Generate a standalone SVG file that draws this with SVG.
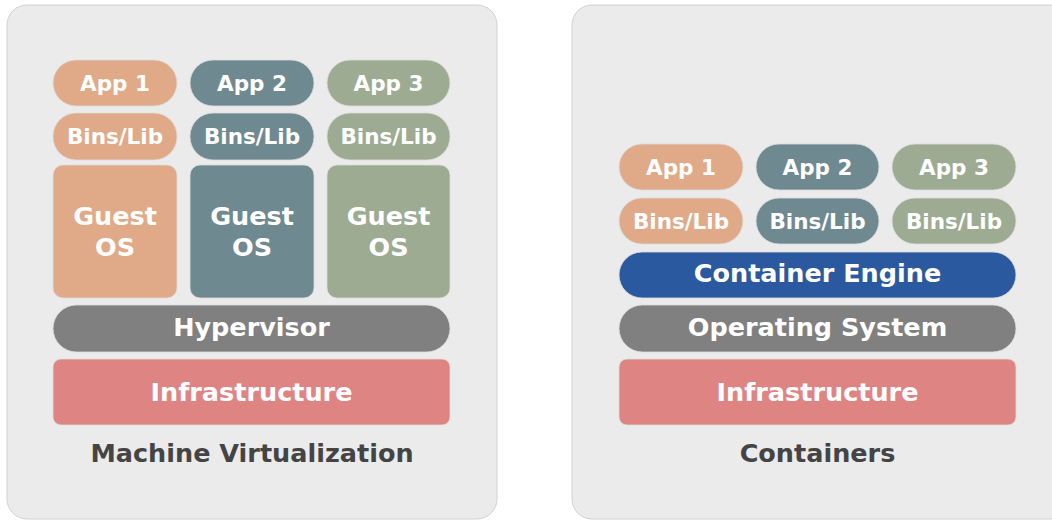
<svg xmlns="http://www.w3.org/2000/svg" width="1052" height="520" viewBox="0 0 1052 520">
<style>
.panel{fill:#ebebeb;stroke:#d2d2d2;stroke-width:1}
.t{font-family:"DejaVu Sans",sans-serif;font-weight:bold;fill:#ffffff;text-anchor:middle;dominant-baseline:central}
.s{font-size:21.5px}
.m{font-size:25.5px}
.l{font-size:25.5px}
.cap{font-family:"DejaVu Sans",sans-serif;font-weight:bold;fill:#444444;text-anchor:middle;font-size:25.5px;dominant-baseline:central}
.o{fill:#e0aa88}.b{fill:#6f8990}.g{fill:#9dab93}.h{fill:#808080}.e{fill:#2a59a0}.r{fill:#de8584}
.o,.b,.g,.h,.e,.r{stroke:#dcdcdc;stroke-width:0.8}
</style>
<rect class="panel" x="7" y="5" width="490" height="514" rx="20"/>
<rect class="panel" x="572" y="5" width="500" height="514" rx="20"/>
<g id="vm-app1"><rect class="o" x="53" y="60" width="124" height="46" rx="23"/><text class="t s" x="115" y="83">App 1</text></g>
<g id="vm-app2"><rect class="b" x="190" y="60" width="124" height="46" rx="23"/><text class="t s" x="252" y="83">App 2</text></g>
<g id="vm-app3"><rect class="g" x="327" y="60" width="123" height="46" rx="23"/><text class="t s" x="388.5" y="83">App 3</text></g>
<g id="vm-bins1"><rect class="o" x="53" y="113" width="124" height="47" rx="23"/><text class="t s" x="115" y="136.5">Bins/Lib</text></g>
<g id="vm-bins2"><rect class="b" x="190" y="113" width="124" height="47" rx="23"/><text class="t s" x="252" y="136.5">Bins/Lib</text></g>
<g id="vm-bins3"><rect class="g" x="327" y="113" width="123" height="47" rx="23"/><text class="t s" x="388.5" y="136.5">Bins/Lib</text></g>
<g id="vm-os1"><rect class="o" x="53" y="165" width="124" height="133" rx="10"/><text class="t l" x="115" y="216">Guest</text><text class="t l" x="115" y="247">OS</text></g>
<g id="vm-os2"><rect class="b" x="190" y="165" width="124" height="133" rx="10"/><text class="t l" x="252" y="216">Guest</text><text class="t l" x="252" y="247">OS</text></g>
<g id="vm-os3"><rect class="g" x="327" y="165" width="123" height="133" rx="10"/><text class="t l" x="388.5" y="216">Guest</text><text class="t l" x="388.5" y="247">OS</text></g>
<g id="vm-hyp"><rect class="h" x="53" y="305" width="397" height="47" rx="23.5"/><text class="t m" x="251.5" y="327">Hypervisor</text></g>
<g id="vm-infra"><rect class="r" x="53" y="359" width="397" height="66" rx="8"/><text class="t m" x="251.5" y="392">Infrastructure</text></g>
<text class="cap" x="252" y="453">Machine Virtualization</text>
<g id="c-app1"><rect class="o" x="619" y="144" width="124" height="46" rx="23"/><text class="t s" x="681" y="167">App 1</text></g>
<g id="c-app2"><rect class="b" x="756" y="144" width="123" height="46" rx="23"/><text class="t s" x="817.5" y="167">App 2</text></g>
<g id="c-app3"><rect class="g" x="892" y="144" width="124" height="46" rx="23"/><text class="t s" x="954" y="167">App 3</text></g>
<g id="c-bins1"><rect class="o" x="619" y="198" width="124" height="46" rx="23"/><text class="t s" x="681" y="221">Bins/Lib</text></g>
<g id="c-bins2"><rect class="b" x="756" y="198" width="123" height="46" rx="23"/><text class="t s" x="817.5" y="221">Bins/Lib</text></g>
<g id="c-bins3"><rect class="g" x="892" y="198" width="124" height="46" rx="23"/><text class="t s" x="954" y="221">Bins/Lib</text></g>
<g id="c-engine"><rect class="e" x="619" y="252" width="397" height="46" rx="23"/><text class="t m" x="817.5" y="273">Container Engine</text></g>
<g id="c-os"><rect class="h" x="619" y="305" width="397" height="47" rx="23.5"/><text class="t m" x="817.5" y="327">Operating System</text></g>
<g id="c-infra"><rect class="r" x="619" y="359" width="397" height="66" rx="8"/><text class="t m" x="817.5" y="392">Infrastructure</text></g>
<text class="cap" x="817.5" y="453">Containers</text>
<g id="connectors"></g>
</svg>
